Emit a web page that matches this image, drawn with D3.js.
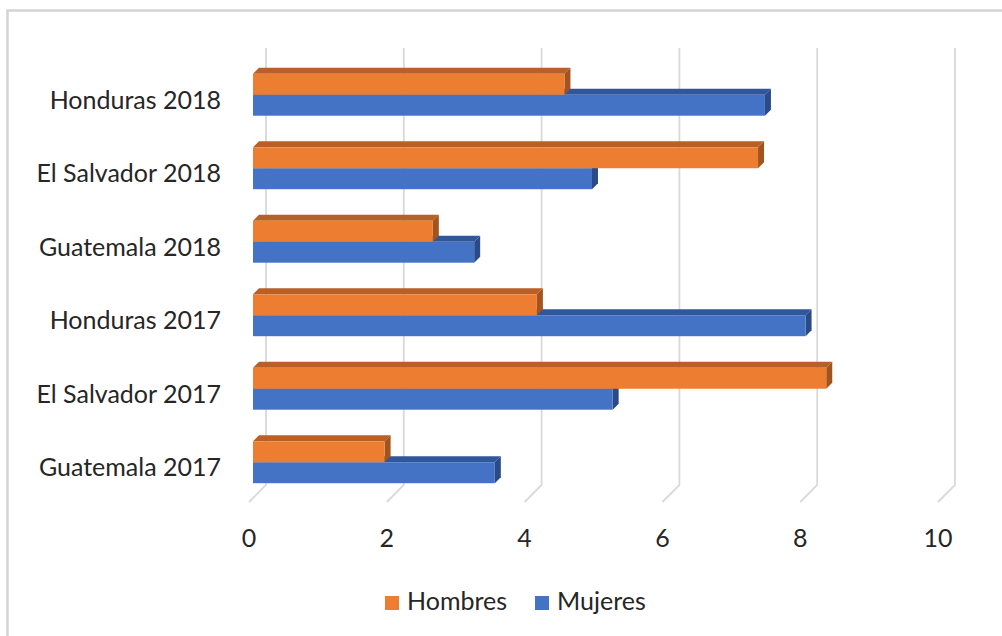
<!DOCTYPE html>
<html>
<head>
<meta charset="utf-8">
<script src="https://cdn.jsdelivr.net/npm/d3@7"></script>
<style>
  html, body { margin: 0; padding: 0; background: #fff; }
  svg { display: block; }
  text { font-family: Lato, "Open Sans", sans-serif; fill: #262626; }
</style>
</head>
<body>
<svg id="chart" width="1002" height="636"></svg>
<script>
// Categories listed top to bottom as they appear on the vertical axis
const categories = [
  "Honduras 2018",
  "El Salvador 2018",
  "Guatemala 2018",
  "Honduras 2017",
  "El Salvador 2017",
  "Guatemala 2017"
];
const hombres = [4.52, 7.33, 2.61, 4.12, 8.32, 1.91];
const mujeres = [7.43, 4.92, 3.21, 8.02, 5.22, 3.51];
const ticks = [0, 2, 4, 6, 8, 10];
const seriesNames = ["Hombres", "Mujeres"];

const colors = {
  Hombres: { front: "#ED7D31", top: "#BA5F25", side: "#A3531D" },
  Mujeres: { front: "#4472C4", top: "#30579B", side: "#2A4B87" }
};

const svg = d3.select("#chart");

// Chart frame
svg.append("path")
  .attr("d", "M7.5,640 L7.5,10.5 L1010,10.5")
  .attr("fill", "none")
  .attr("stroke", "#d3d3d3")
  .attr("stroke-width", 2.5);

// Oblique 3D geometry: floor depth and bar depth in pixels
const floorDepth = 17;   // front edge of floor to back wall
const barInset = 4;      // bars start a little behind the floor front
const barDepth = 6;      // thickness of each bar in depth

// x scale measured along the front edge of the floor
const x = d3.scaleLinear().domain([0, 10]).range([249, 938]);

// y band for the category groups (front-face plane of the bars)
const y = d3.scaleBand()
  .domain(categories)
  .range([58, 499])
  .paddingInner(0.43)
  .paddingOuter(0.215);

const sub = d3.scaleBand()
  .domain(seriesNames)
  .range([0, y.bandwidth()]);

const wallTop = 48;
const floorBack = 485;
const floorFront = floorBack + floorDepth;

// Gridlines on the back wall folding down onto the floor
const grid = svg.append("g");
ticks.forEach(t => {
  const xb = x(t) + floorDepth;
  grid.append("path")
    .attr("d", `M${xb},${wallTop} L${xb},${floorBack} L${x(t)},${floorFront}`)
    .attr("fill", "none")
    .attr("stroke", "#d9d9d9")
    .attr("stroke-width", 1.8);
});

// Value axis labels
svg.append("g")
  .selectAll("text")
  .data(ticks)
  .join("text")
  .attr("x", d => x(d))
  .attr("y", 547)
  .attr("text-anchor", "middle")
  .attr("font-size", 25)
  .text(d => d);

// Category labels
svg.append("g")
  .selectAll("text")
  .data(categories)
  .join("text")
  .attr("x", 221)
  .attr("y", d => y(d) + y.bandwidth() / 2 + 14)
  .attr("text-anchor", "end")
  .attr("font-size", 25)
  .text(d => d);

// One 3D bar: front face, top face and right end cap
function drawBar(g, value, yTop, h, c) {
  const x0 = x(0) + barInset;
  const x1 = x(value) + barInset;
  const y0 = yTop, y1 = yTop + h, d = barDepth;
  g.append("path")
    .attr("d", `M${x0},${y0} L${x0 + d},${y0 - d} L${x1 + d},${y0 - d} L${x1},${y0} Z`)
    .attr("fill", c.top);
  g.append("path")
    .attr("d", `M${x1},${y0} L${x1 + d},${y0 - d} L${x1 + d},${y1 - d} L${x1},${y1} Z`)
    .attr("fill", c.side);
  g.append("rect")
    .attr("x", x0).attr("y", y0)
    .attr("width", x1 - x0).attr("height", h)
    .attr("fill", c.front);
}

const bars = svg.append("g");
categories.forEach((cat, i) => {
  const g = bars.append("g");
  // lower bar first so the upper bar's front face covers its top
  drawBar(g, mujeres[i], y(cat) + sub("Mujeres"), sub.bandwidth(), colors.Mujeres);
  drawBar(g, hombres[i], y(cat) + sub("Hombres"), sub.bandwidth(), colors.Hombres);
});

// Legend
const legendItems = [
  { name: "Hombres", x: 385 },
  { name: "Mujeres", x: 535 }
];
const legend = svg.append("g");
legendItems.forEach(item => {
  legend.append("rect")
    .attr("x", item.x).attr("y", 596)
    .attr("width", 14).attr("height", 14)
    .attr("fill", colors[item.name].front);
  legend.append("text")
    .attr("x", item.x + 22)
    .attr("y", 610)
    .attr("font-size", 25)
    .text(item.name);
});
</script>
</body>
</html>
